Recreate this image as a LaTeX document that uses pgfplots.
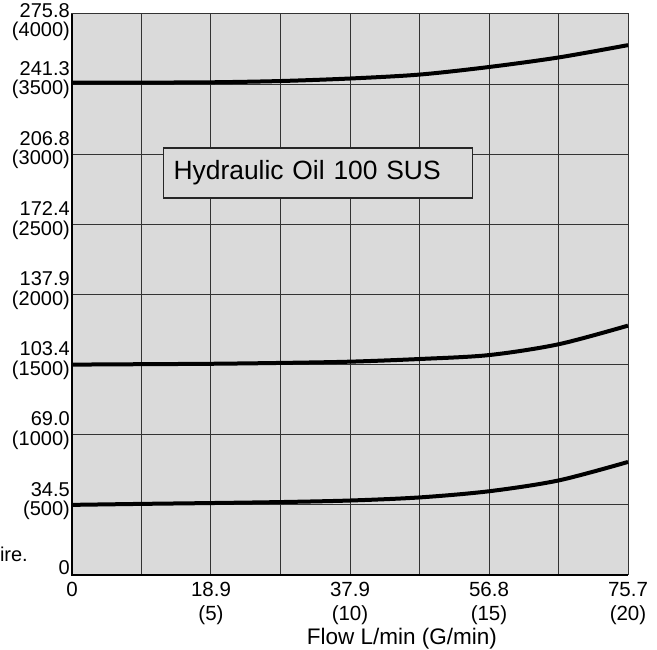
\documentclass[border=0pt]{standalone}
\usepackage{fontspec}
\setmainfont{Liberation Sans}
\usepackage{pgfplots}
\pgfplotsset{compat=1.18}
\definecolor{bg}{RGB}{218,218,218}
\begin{document}
\begin{tikzpicture}[x=1pt,y=1pt]
\begin{axis}[
  at={(0,0)}, anchor=south west,
  width=556pt, height=561pt, scale only axis,
  xmin=0, xmax=20, ymin=0, ymax=4000,
  xtick={0,5,10,15,20},
  xticklabels={0,{18.9\\(5)},{37.9\\(10)},{56.8\\(15)},{75.7\\(20)}},
  minor xtick={2.5,7.5,12.5,17.5},
  ytick={0,500,1000,1500,2000,2500,3000,3500},
  yticklabels={{\raisebox{3pt}[\height][\depth]{0}},{34.5\\(500)},{69.0\\(1000)},{103.4\\(1500)},{137.9\\(2000)},{172.4\\(2500)},{206.8\\(3000)},{241.3\\(3500)}},
  extra y ticks={4000},
  extra y tick labels={{275.8\\(4000)}},
  extra y tick style={yticklabel style={yshift=-12pt}},
  major tick length=0pt, minor tick length=0pt,
  grid=both,
  major grid style={black!80, line width=1pt},
  minor grid style={black!80, line width=1pt},
  axis background/.style={fill=bg},
  axis line style={black!80, line width=1pt},
  xticklabel style={align=center, font=\fontsize{20.5}{24}\selectfont, inner sep=0pt, yshift=-7pt},
  yticklabel style={align=right, font=\fontsize{20}{19.5}\selectfont, inner sep=0pt, xshift=-2pt, yshift=4pt},
  xlabel={Flow L/min (G/min)},
  xlabel style={at={(rel axis cs:0.5935,0)}, anchor=base, inner sep=0pt, yshift=-69.5pt, font=\fontsize{22.5}{25}\selectfont},
  clip=false,
]
\addplot[black, line width=4pt, smooth, tension=0.5] coordinates {
 (0,3510) (2.5,3511) (5,3513) (7.5,3522) (10,3540) (12.5,3568) (15,3622) (17.5,3690) (20,3778)};
\addplot[black, line width=4pt, smooth, tension=0.5] coordinates {
 (0,1500) (2.5,1503) (5,1506) (7.5,1512) (10,1521) (12.5,1540) (15,1568) (17.5,1645) (20,1778)};
\addplot[black, line width=4pt, smooth, tension=0.5] coordinates {
 (0,500) (2.5,507) (5,513) (7.5,520) (10,531) (12.5,553) (15,597) (17.5,674) (20,806)};
\draw[line width=2pt, black] (rel axis cs:0,1) -- (rel axis cs:0,0) -- (rel axis cs:1,0);
\node[draw=black!85, line width=1.5pt, fill=bg, anchor=west, text width=289pt, align=left,
      inner xsep=10pt, minimum height=50pt, font=\fontsize{26.4}{30}\selectfont]
  at (axis cs:3.27,2866) {Hydraulic Oil 100 SUS};
\end{axis}
\node[anchor=base east, inner sep=0pt, font=\fontsize{20}{23}\selectfont] at (-44,13) {ire.};
\pgfresetboundingbox
\useasboundingbox (-72,-75) rectangle (585,575);
\end{tikzpicture}
\end{document}
